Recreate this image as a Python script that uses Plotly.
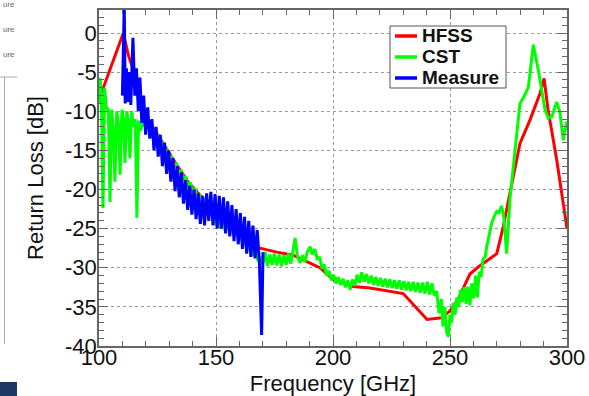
import plotly.graph_objects as go

# ---------------- data ----------------
hfss_f = [100, 110.4, 112.5, 116.8, 119.7, 126, 132, 138, 144, 150, 156, 162, 168.8, 176, 183,
          187.2, 194.4, 200, 208.5, 215.8, 230, 240.2, 246.5, 250, 253.5, 258.5, 262.5, 270,
          272.8, 275.6, 279.9, 284.2, 288.5, 290.2, 291.9, 295.6, 300]
hfss_db = [-8.5, 0, -2.8, -6.6, -10.5, -13.5, -16.3, -19, -21, -23, -24.6, -26, -27.5, -28, -28.4,
           -29, -30, -31.5, -32.4, -32.6, -33.3, -36.6, -36.4, -35.5, -34, -30.8, -29.8, -28.2,
           -24.7, -20.5, -14.1, -11.1, -7.7, -5.8, -9.8, -16.2, -25]

cst_f = [100.0, 100.5, 101.0, 101.7, 102.4, 103.1, 104.0, 104.7, 105.4, 106.1, 106.8, 107.6, 108.3,
         109.0, 109.8, 110.5, 111.1, 111.9, 112.6, 113.2, 114.0, 114.7, 115.5, 116.2, 116.9, 117.6,
         118.3, 119, 120, 121, 122, 123, 124, 125, 126, 127, 128, 129, 130, 131, 132, 133, 134, 135,
         136, 137, 138, 139, 140, 141, 142, 143, 144, 145, 146, 147, 148, 149, 150, 151, 152, 153,
         154, 155, 156, 157, 158, 159, 160, 161, 162, 163, 164, 165, 166, 167, 168, 169, 170,
         171, 172, 173, 174, 175, 176, 177, 178, 179, 180, 181, 182, 183, 183.8, 184.8, 185.9, 187,
         188, 189, 190.2, 191.2, 192.3, 193.3, 194.3, 195.3, 196.3, 197.3, 198.3, 199.3, 200.3,
         201.3, 202.3, 203.3, 204.3, 205.3, 206.3, 207.3, 208.3, 209.3, 210.3, 211.3, 212.3, 213.3,
         214.3, 215.3, 216.3, 217.3, 218.3, 219.3, 220.3, 221.3, 222.3, 223.3, 224.3, 225.3, 226.3,
         227.3, 228.3, 229.3, 230.3, 231.3, 232.3, 233.3, 234.3, 235.3, 236.3, 237.3, 238.3, 239.3,
         240.3, 241.3, 242.3, 243.3, 244.3, 245.3, 246.3, 247.0, 247.8, 248.6, 249.3, 250.0, 250.7,
         251.4, 252.2, 252.9, 253.7, 254.5, 255.3, 256.1, 256.9, 257.7, 258.5, 259.3, 260.1, 260.9,
         261.7, 262.5, 263.3, 264.1, 265, 265.7, 266.7, 267.8, 268.8, 270, 271, 272, 273, 274.2,
         275.6, 277.8, 279.9, 282, 283.5, 285.6, 287.7, 290.6, 292, 293.5, 295.6, 297, 298.4,
         299.8, 300]
cst_db = [-9.0, -5.8, -8.0, -22.4, -7.0, -9.5, -9.8, -21.6, -9.8, -12.5, -19.0, -10.0, -11.5,
          -18.1, -9.8, -11.0, -16.6, -10.0, -11.5, -16.0, -10.0, -12.0, -11.0, -23.6, -11.2, -12.5,
          -12.0, -10.8, -12.2, -11.4, -12.9, -12.2, -13.6, -13.0, -14.5, -13.9, -15.3, -14.8, -16.2,
          -15.7, -17.1, -16.6, -18.0, -17.5, -18.8, -18.3, -19.6, -19.1, -20.3, -19.9, -21.0, -20.6,
          -21.7, -21.3, -22.4, -22.0, -23.1, -22.8, -24.6, -23.6, -24.9, -24.2, -25.3, -24.6, -25.6,
          -25.0, -26.0, -25.4, -26.5, -26.0, -27.1, -26.6, -27.8, -27.3, -28.5, -28.0, -29.2, -28.6,
          -29.5,
          -28.0, -29.8, -28.3, -29.6, -28.2, -29.7, -28.3, -29.8, -28.4, -29.6, -28.2, -29.5, -27.8,
          -26.2, -28.5, -29.4, -28.4, -29.3, -28.0, -27.3, -28.3, -27.6, -29.0, -28.6, -30.1, -29.6,
          -31.0, -30.4, -31.6, -30.9, -32.0, -31.2, -32.2, -31.4, -32.5, -31.6, -32.8, -31.5, -32.3,
          -30.9, -31.9, -30.6, -31.8, -30.8, -32.0, -31.0, -32.2, -31.2, -32.3, -31.3, -32.4, -31.4,
          -32.5, -31.5, -32.6, -31.6, -32.7, -31.6, -32.8, -31.7, -32.9, -31.8, -33.0, -31.8, -33.1,
          -31.9, -33.2, -31.9, -33.3, -31.8, -33.4, -32.0, -33.6, -33.0, -35.8, -34.0, -37.5, -35.0,
          -38.3, -38.8, -36.0, -37.0, -34.5, -36.0, -33.8, -35.0, -32.8, -34.4, -32.5, -34.6, -32.4,
          -34.8, -32.0, -33.9, -31.0, -33.8, -30.5, -31.2, -28.9, -28.6, -27.3, -26.0, -24.3, -23.5,
          -22.8, -22.9, -22.1, -23.5, -28.2, -21.3, -15.4, -9.0, -7.9, -6.9, -1.5, -4.7, -9.8, -10.9,
          -10.7, -8.8, -10.2, -13.7, -11.5, -11.3]

meas_f = [110.0, 110.4, 110.8, 111.2, 111.7, 112.3, 112.9, 113.6, 114.5, 115.3, 116.0, 116.8, 117.5,
          118.3, 119.1, 119.9, 120.8, 121.7, 122.6, 123.5, 124.4, 125.3, 126.2, 127.1, 128.0, 128.9,
          129.8, 130.7, 131.6, 132.5, 133.4, 134.3, 135.2, 136.1, 137.0, 137.9, 138.8, 139.7, 140.6,
          141.5, 142.4, 143.3, 144.2, 145.1, 146.0, 146.9, 147.8, 148.7, 149.6, 150.5, 151.4, 152.3,
          153.2, 154.1, 155.0, 155.9, 156.8, 157.7, 158.6, 159.5, 160.4, 161.3, 162.2, 163.1, 164.0,
          164.9, 165.8, 166.7, 167.6, 168.5, 169.5, 170.1]
meas_db = [-8.0, -3.0, 3.5, -9.0, -4.5, -8.8, -5.0, -9.2, -0.6, -8.0, -4.5, -10.0, -5.7,
           -11.5, -8.0, -13.0, -9.5, -13.5, -11.0, -15.0, -12.0, -15.8, -13.0, -17.0, -14.0, -18.0,
           -15.0, -19.0, -16.0, -20.2, -17.0, -21.0, -17.8, -21.8, -18.8, -22.6, -19.5, -23.2, -20.0,
           -23.8, -20.5, -24.4, -20.8, -24.6, -20.5, -24.0, -20.3, -24.6, -20.6, -25.0, -20.8, -25.0,
           -21.0, -25.6, -21.5, -26.0, -22.0, -26.6, -22.5, -27.0, -23.0, -27.6, -23.5, -28.2, -24.0,
           -28.6, -24.6, -28.8, -25.2, -29.0, -38.6, -28.0]

x_tickvals = [100, 150, 200, 250, 300]
x_ticktext = ["100", "150", "200", "250", "300"]
y_tickvals = [0, -5, -10, -15, -20, -25, -30, -35, -40]
y_ticktext = ["0", "-5", "-10", "-15", "-20", "-25", "-30", "-35", "-40"]

series_names = ["HFSS", "CST", "Measure"]
series_colors = ["#ff0000", "#00ff00", "#0000ff"]

# ---------------- figure ----------------
FONT = "Liberation Sans, Arial, sans-serif"
L, R, T, B = 99, 22, 10, 50
W, H = 589, 396
PW, PH = W - L - R, H - T - B


def px_x(p):
    return (p - L) / PW


def px_y(p):
    return (H - B - p) / PH


fig = go.Figure()
for f, db, name, col in zip([hfss_f, cst_f, meas_f], [hfss_db, cst_db, meas_db],
                            series_names, series_colors):
    fig.add_trace(go.Scatter(x=f, y=db, mode="lines", name=name,
                             line=dict(color=col, width=3)))

axis_common = dict(showline=True, linecolor="#666666", linewidth=1.5, mirror="ticks",
                   ticks="inside", tickcolor="#666666", ticklen=9, tickwidth=1,
                   showgrid=True, gridcolor="#9a9a9a", griddash="dot", gridwidth=1,
                   zeroline=False, tickfont=dict(family=FONT, size=22, color="#111111"),
                   tickmode="array", automargin=False)

fig.update_xaxes(range=[100, 300], tickvals=x_tickvals, ticktext=x_ticktext,
                 minor=dict(dtick=10, tick0=100, ticks="inside", ticklen=5, tickcolor="#666666",
                            showgrid=False),
                 title=dict(text="Frequency [GHz]", font=dict(family=FONT, size=22, color="#111111"),
                            standoff=12),
                 ticklabelstandoff=-9,
                 **axis_common)
fig.update_yaxes(range=[-40, 2.94], tickvals=y_tickvals, ticktext=y_ticktext,
                 minor=dict(dtick=1, tick0=0, ticks="inside", ticklen=5, tickcolor="#666666",
                            showgrid=False),
                 title=dict(text="Return Loss [dB]", font=dict(family=FONT, size=22, color="#111111"),
                            standoff=15),
                 ticklabelstandoff=-4,
                 **axis_common)

# legend box drawn by hand (ROOT-style compact legend)
fig.add_shape(type="rect", xref="paper", yref="paper", x0=px_x(390), x1=px_x(506),
              y0=px_y(88), y1=px_y(26), line=dict(color="#555555", width=1), fillcolor="white",
              layer="above")
for i, (name, col) in enumerate(zip(series_names, series_colors)):
    yy = 36 + 21 * i
    fig.add_shape(type="line", xref="paper", yref="paper", x0=px_x(395), x1=px_x(417),
                  y0=px_y(yy), y1=px_y(yy), line=dict(color=col, width=3.5), layer="above")
    fig.add_annotation(xref="paper", yref="paper", x=px_x(420), y=px_y(yy), text="<b>%s</b>" % name,
                       showarrow=False, xanchor="left", yanchor="middle",
                       font=dict(family=FONT, size=19, color="#111111"))

# fragment of neighbouring chart at the left edge (decoration)
for yy in [4, 29, 55]:
    fig.add_annotation(xref="paper", yref="paper", x=px_x(1), y=px_y(yy), text="ure",
                       showarrow=False, xanchor="left", yanchor="middle",
                       font=dict(family=FONT, size=8, color="#666666"))
fig.add_shape(type="line", xref="paper", yref="paper", x0=px_x(0), x1=px_x(17),
              y0=px_y(77), y1=px_y(77), line=dict(color="#aaaaaa", width=1))
fig.add_shape(type="line", xref="paper", yref="paper", x0=px_x(4.5), x1=px_x(4.5),
              y0=px_y(77), y1=px_y(344), line=dict(color="#aaaaaa", width=1))
fig.add_shape(type="rect", xref="paper", yref="paper", x0=px_x(0), x1=px_x(17),
              y0=px_y(396), y1=px_y(382), line=dict(width=0), fillcolor="#1d3664")

fig.update_layout(
    width=W, height=H,
    margin=dict(l=L, r=R, t=T, b=B),
    paper_bgcolor="white", plot_bgcolor="white",
    showlegend=False,
)

fig.write_html("out.html")
